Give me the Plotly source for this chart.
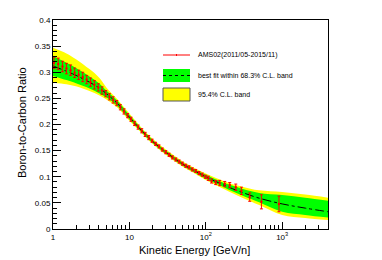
import plotly.graph_objects as go

# ---- data ----
energies = [1.03, 1.17, 1.33, 1.50, 1.70, 1.92, 2.17, 2.45, 2.76, 3.10, 3.48, 3.91,
            4.38, 4.90, 5.48, 6.12, 6.83, 7.62, 8.50, 9.47, 10.5, 11.7, 13.0, 14.5,
            16.1, 17.9, 19.8, 22.0, 24.4, 27.0, 29.9, 33.1, 36.6, 40.5, 44.8, 49.5,
            54.7, 60.4, 66.7, 73.7, 81.5, 90.0, 99.0, 108, 119, 135, 152, 177, 206,
            247, 293, 376, 535, 908]
bc_ratio = [0.318, 0.316, 0.311, 0.307, 0.304, 0.299, 0.295, 0.291, 0.286, 0.281, 0.276, 0.271,
            0.265, 0.259, 0.253, 0.247, 0.241, 0.233, 0.225, 0.217, 0.210, 0.202, 0.195, 0.188,
            0.181, 0.175, 0.169, 0.163, 0.158, 0.152, 0.147, 0.142, 0.137, 0.133, 0.129, 0.125,
            0.121, 0.118, 0.114, 0.111, 0.107, 0.104, 0.100, 0.097, 0.092, 0.089, 0.088, 0.086, 0.084,
            0.080, 0.073, 0.061, 0.052, 0.048]
bc_err = [0.011, 0.011, 0.010, 0.010, 0.010, 0.009, 0.009, 0.009, 0.008, 0.008, 0.008, 0.007,
          0.007, 0.006, 0.006, 0.006, 0.005, 0.005, 0.005, 0.004, 0.004, 0.004, 0.004, 0.004,
          0.004, 0.004, 0.003, 0.003, 0.003, 0.003, 0.003, 0.003, 0.003, 0.003, 0.003, 0.003,
          0.003, 0.003, 0.003, 0.003, 0.003, 0.003, 0.003, 0.004, 0.004, 0.004, 0.005, 0.005, 0.005,
          0.006, 0.007, 0.008, 0.0135, 0.015]

fit_energy = [1, 1.5, 2, 3, 4, 5, 7, 10, 15, 20, 30, 50, 70, 100, 150, 200, 300, 500, 1000, 2000, 4000]
fit_central = [0.312, 0.302, 0.294, 0.281, 0.270, 0.259, 0.240, 0.214, 0.186, 0.168, 0.147, 0.124,
               0.112, 0.100, 0.088, 0.080, 0.070, 0.059, 0.048, 0.040, 0.033]
band68_lo = [0.293, 0.285, 0.279, 0.269, 0.260, 0.252, 0.235, 0.210, 0.183, 0.165, 0.144, 0.121,
             0.109, 0.096, 0.084, 0.075, 0.064, 0.051, 0.033, 0.027, 0.022]
band68_hi = [0.331, 0.318, 0.308, 0.292, 0.279, 0.265, 0.245, 0.218, 0.189, 0.171, 0.150, 0.127,
             0.115, 0.104, 0.092, 0.085, 0.077, 0.069, 0.065, 0.060, 0.054]
band95_lo = [0.280, 0.277, 0.273, 0.264, 0.256, 0.248, 0.232, 0.207, 0.181, 0.163, 0.142, 0.119,
             0.107, 0.094, 0.081, 0.072, 0.060, 0.046, 0.027, 0.021, 0.017]
band95_hi = [0.347, 0.336, 0.325, 0.306, 0.290, 0.271, 0.248, 0.221, 0.191, 0.173, 0.152, 0.129,
             0.117, 0.106, 0.095, 0.088, 0.081, 0.074, 0.071, 0.066, 0.060]

x_tick_vals = [1, 10, 100, 1000]
x_tick_text = ["1", "10", "10<sup>2</sup>", "10<sup>3</sup>"]
x_minor_vals = [2, 3, 4, 5, 6, 7, 8, 9, 20, 30, 40, 50, 60, 70, 80, 90,
                200, 300, 400, 500, 600, 700, 800, 900, 2000, 3000]

legend_labels = ["AMS02(2011/05-2015/11)", "best fit within 68.3% C.L. band", "95.4% C.L. band"]

FONT = "Liberation Sans, Arial, sans-serif"
RED = "#ff0000"
GREEN = "#00ff00"
YELLOW = "#ffff00"

W, H = 382, 260
L, R, T, B = 53, 328, 20, 229

fig = go.Figure()
# 95.4% band
fig.add_trace(go.Scatter(x=fit_energy, y=band95_lo, mode="lines", line=dict(width=0, shape="spline"),
                         showlegend=False, hoverinfo="skip"))
fig.add_trace(go.Scatter(x=fit_energy, y=band95_hi, mode="lines", line=dict(width=0, shape="spline"),
                         fill="tonexty", fillcolor=YELLOW, showlegend=False, hoverinfo="skip"))
# 68.3% band
fig.add_trace(go.Scatter(x=fit_energy, y=band68_lo, mode="lines", line=dict(width=0, shape="spline"),
                         showlegend=False, hoverinfo="skip"))
fig.add_trace(go.Scatter(x=fit_energy, y=band68_hi, mode="lines", line=dict(width=0, shape="spline"),
                         fill="tonexty", fillcolor=GREEN, showlegend=False, hoverinfo="skip"))
# best fit
fig.add_trace(go.Scatter(x=fit_energy, y=fit_central, mode="lines",
                         line=dict(color="black", width=1, dash="dashdot", shape="spline"),
                         showlegend=False))
# data
fig.add_trace(go.Scatter(x=energies, y=bc_ratio, mode="markers",
                         marker=dict(color=RED, size=2.5, symbol="circle"),
                         error_y=dict(type="data", array=bc_err, color=RED, thickness=1, width=1.5),
                         showlegend=False))

def px(xp):
    return (xp - L) / (R - L)

def py(yp):
    return (B - yp) / (B - T)

shapes = []
# legend entry 1: line with marker
shapes.append(dict(type="line", xref="paper", yref="paper", x0=px(163), x1=px(190), y0=py(55), y1=py(55),
                   line=dict(color=RED, width=1)))
shapes.append(dict(type="line", xref="paper", yref="paper", x0=px(176.5), x1=px(176.5), y0=py(54), y1=py(56),
                   line=dict(color=RED, width=1)))
# legend entry 2: green box with dotted line
shapes.append(dict(type="rect", xref="paper", yref="paper", x0=px(163), x1=px(190), y0=py(82), y1=py(69),
                   fillcolor=GREEN, line=dict(width=0)))
shapes.append(dict(type="line", xref="paper", yref="paper", x0=px(163), x1=px(190), y0=py(75.5), y1=py(75.5),
                   line=dict(color="black", width=1, dash="dot")))
# legend entry 3: yellow box
shapes.append(dict(type="rect", xref="paper", yref="paper", x0=px(163), x1=px(190), y0=py(101), y1=py(88),
                   fillcolor=YELLOW, line=dict(color="#555555", width=1)))

annotations = []
for lbl, yy in zip(legend_labels, [55, 75.5, 94.5]):
    annotations.append(dict(text=lbl, xref="paper", yref="paper", x=px(196), y=py(yy),
                            xanchor="left", yanchor="middle", showarrow=False,
                            font=dict(family=FONT, size=7, color="black")))
annotations.append(dict(text="Kinetic Energy [GeV/n]", xref="paper", yref="paper",
                        x=px(194), y=py(250), xanchor="center", yanchor="middle", showarrow=False,
                        font=dict(family=FONT, size=11, color="black")))
annotations.append(dict(text="Boron-to-Carbon Ratio", xref="paper", yref="paper",
                        x=px(22), y=py(123), xanchor="center", yanchor="middle", showarrow=False,
                        textangle=-90, font=dict(family=FONT, size=11, color="black")))

fig.update_layout(
    width=W, height=H,
    margin=dict(l=L, r=W - R, t=T, b=H - B, pad=0),
    paper_bgcolor="white", plot_bgcolor="white",
    showlegend=False,
    shapes=shapes, annotations=annotations,
    font=dict(family=FONT, size=8, color="black"),
)
fig.update_xaxes(type="log", range=[0, 3.6], showgrid=False, zeroline=False,
                 showline=True, linecolor="black", linewidth=1, mirror=True,
                 tickmode="array", tickvals=x_tick_vals, ticktext=x_tick_text,
                 ticks="inside", ticklen=7, tickcolor="black",
                 minor=dict(tickmode="array", tickvals=x_minor_vals, ticks="inside", ticklen=4, tickcolor="black"),
                 tickfont=dict(size=8, family=FONT))
fig.update_yaxes(range=[0, 0.4], showgrid=False, zeroline=False,
                 showline=True, linecolor="black", linewidth=1, mirror=True,
                 tickmode="linear", tick0=0, dtick=0.05,
                 ticks="inside", ticklen=8, tickcolor="black",
                 minor=dict(dtick=0.01, ticks="inside", ticklen=4, tickcolor="black"),
                 tickfont=dict(size=8, family=FONT))

fig.write_html("out.html",
               config={"displayModeBar": False, "staticPlot": True},
               post_script="document.body.style.margin='0';document.body.style.overflow='hidden';")
